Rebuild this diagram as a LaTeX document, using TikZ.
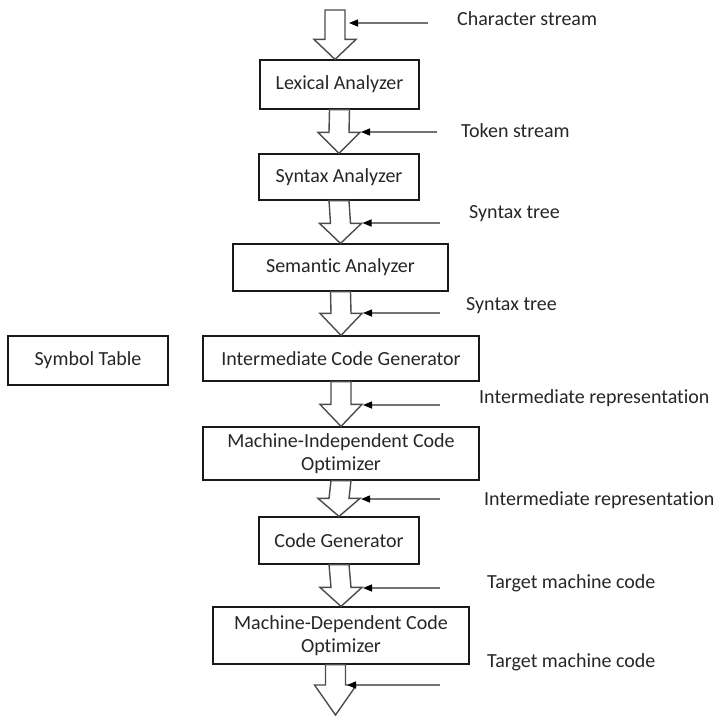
\documentclass[tikz,border=0pt]{standalone}
\usepackage{fontspec}
\setmainfont{Carlito}[Ligatures=NoCommon]
\usetikzlibrary{calc,arrows.meta}

% hollow block arrow: #1 start, #2 tip, #3 head length, #4 name of the right shoulder
\newcommand\blockarr[4]{%
  \draw[blockarrow] ($(#1)+(-10,0)$) -- ($(#2)+(-10,-#3)$) -- ($(#2)+(-21,-#3)$)
    -- (#2) -- ($(#2)+(21,-#3)$) -- ($(#2)+(10,-#3)$) -- ($(#1)+(10,0)$) -- cycle;
  \coordinate (#4) at ($(#2)+(22,-#3)$);
}

\begin{document}
\begin{tikzpicture}[x=1pt,y=-1pt,
  box/.style={draw=black!90, line width=1.2pt, rectangle, inner sep=0pt,
    align=center, font=\fontsize{20}{23}\selectfont, text=black!85},
  lbl/.style={anchor=base west, inner sep=0pt,
    font=\fontsize{20}{23}\selectfont, text=black!85},
  blockarrow/.style={draw=black!70, line width=1.4pt, fill=white, line join=miter},
  feed/.style={draw=black!55, line width=1.4pt,
    -{Triangle[length=9pt,width=7pt,black]}}
]
\useasboundingbox (0,0) rectangle (720,716);

% compiler phases
\node[box, minimum width=159pt, minimum height=49pt] (lex) at (339.5,84.5) {Lexical Analyzer};
\node[box, minimum width=160pt, minimum height=46pt] (syn) at (339,177) {Syntax Analyzer};
\node[box, minimum width=215pt, minimum height=47pt] (sem) at (340.5,267.5) {Semantic Analyzer};
\node[box, minimum width=276pt, minimum height=45pt] (icg) at (341,358.5) {Intermediate Code Generator};
\node[box, minimum width=276pt, minimum height=53pt] (mic) at (341,453.5) {Machine-Independent Code\\Optimizer};
\node[box, minimum width=160pt, minimum height=47pt] (cg) at (339,540.5) {Code Generator};
\node[box, minimum width=256pt, minimum height=57pt] (mdc) at (341,635.5) {Machine-Dependent Code\\Optimizer};
\node[box, minimum width=160pt, minimum height=49pt] (sym) at (88,360.5) {Symbol Table};

% flow between the phases
\coordinate (in) at (335,10);
\coordinate (out) at (335.5,715);
\blockarr{in}{in |- lex.north}{20}{sh1}
\blockarr{lex.south}{syn.north}{21}{sh2}
\blockarr{syn.south}{sem.north}{20}{sh3}
\blockarr{sem.south}{icg.north}{22}{sh4}
\blockarr{icg.south}{mic.north}{22}{sh5}
\blockarr{mic.south}{cg.north}{18}{sh6}
\blockarr{cg.south}{mdc.north}{19}{sh7}
\blockarr{mdc.south -| out}{out}{30}{sh8}

% what flows between the phases
\coordinate (f1) at (428,23);
\coordinate (f2) at (437,132);
\coordinate (f3) at (440,223);
\coordinate (f4) at (440,313);
\coordinate (f5) at (440,405);
\coordinate (f6) at (440,499);
\coordinate (f7) at (440,588);
\coordinate (f8) at (440,685);
\coordinate (s1) at (349,23);
\coordinate (s8) at (347,685);
\draw[feed] (f1) -- (s1);
\draw[feed] (f2) -- (f2 -| sh2);
\draw[feed] (f3) -- (f3 -| sh3);
\draw[feed] (f4) -- (f4 -| sh4);
\draw[feed] (f5) -- (f5 -| sh5);
\draw[feed] (f6) -- (f6 -| sh6);
\draw[feed] (f7) -- (f7 -| sh7);
\draw[feed] (f8) -- (s8);

\node[lbl] (l1) at (457,25) {Character stream};
\node[lbl] (l2) at (461,137) {Token stream};
\node[lbl] (l3) at (469,218) {Syntax tree};
\node[lbl] (l4) at (466,310) {Syntax tree};
\node[lbl] (l5) at (479,403) {Intermediate representation};
\node[lbl] (l6) at (484,505) {Intermediate representation};
\node[lbl] (l7) at (487,588) {Target machine code};
\node[lbl] (l8) at (487,667) {Target machine code};
\end{tikzpicture}
\end{document}
